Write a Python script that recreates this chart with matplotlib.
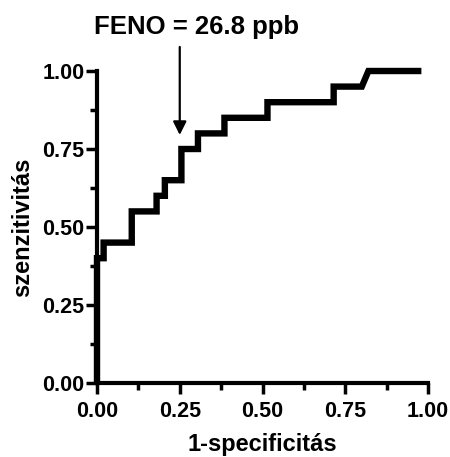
import matplotlib
matplotlib.use("Agg")
import matplotlib.pyplot as plt
from matplotlib.ticker import MultipleLocator

# ROC curve
fpr = [0, 0, 0.02, 0.02, 0.105, 0.105, 0.18, 0.18, 0.205, 0.205, 0.255, 0.255,
       0.305, 0.305, 0.385, 0.385, 0.515, 0.515, 0.715, 0.715, 0.80, 0.82, 0.98]
tpr = [0, 0.40, 0.40, 0.45, 0.45, 0.55, 0.55, 0.60, 0.60, 0.65, 0.65, 0.75,
       0.75, 0.80, 0.80, 0.85, 0.85, 0.90, 0.90, 0.95, 0.95, 1.00, 1.00]
ticks = [0.00, 0.25, 0.50, 0.75, 1.00]
cutoff_label = "FENO = 26.8 ppb"
cutoff_x = 0.25
cutoff_y = 0.795

plt.rcParams['font.family'] = ['Liberation Sans', 'DejaVu Sans']
plt.rcParams['font.weight'] = 'bold'

fig = plt.figure(figsize=(4.5, 4.57), dpi=100)
ax = fig.add_axes([97 / 450, 1 - 383 / 457, 331 / 450, 312 / 457])

ax.plot(fpr, tpr, color='black', lw=4.6, solid_joinstyle='miter',
        solid_capstyle='butt', clip_on=False, zorder=3)

ax.set_xlim(0, 1)
ax.set_ylim(0, 1)
ax.set_xticks(ticks)
ax.set_yticks(ticks)
ax.set_xticklabels([f"{t:.2f}" for t in ticks])
ax.set_yticklabels([f"{t:.2f}" for t in ticks])
ax.xaxis.set_minor_locator(MultipleLocator(0.125))
ax.yaxis.set_minor_locator(MultipleLocator(0.125))

for s in ['top', 'right']:
    ax.spines[s].set_visible(False)
for s in ['left', 'bottom']:
    ax.spines[s].set_linewidth(3)
ax.tick_params(which='major', length=8, width=2.5, labelsize=15.5)
ax.tick_params(axis='x', which='major', pad=5)
ax.tick_params(axis='y', which='major', pad=1)
ax.tick_params(which='minor', length=5, width=2.5)
for lab in ax.get_xticklabels() + ax.get_yticklabels():
    lab.set_fontweight('bold')

ax.set_xlabel("1-specificitás", fontsize=17, fontweight='bold', labelpad=8)
ax.set_ylabel("szenzitivitás", fontsize=17, fontweight='bold', labelpad=6)

ax.annotate("", xy=(cutoff_x, cutoff_y), xytext=(cutoff_x, 1.077),
            xycoords='data', textcoords='data', annotation_clip=False,
            arrowprops=dict(arrowstyle='-|>', color='black', lw=1.6,
                            mutation_scale=20, shrinkA=0, shrinkB=0))
ax.text(0.30, 1.14, cutoff_label, ha='center', va='center', fontsize=18.5,
        fontweight='bold', transform=ax.transData, clip_on=False)

fig.savefig("out.png", dpi=100)
